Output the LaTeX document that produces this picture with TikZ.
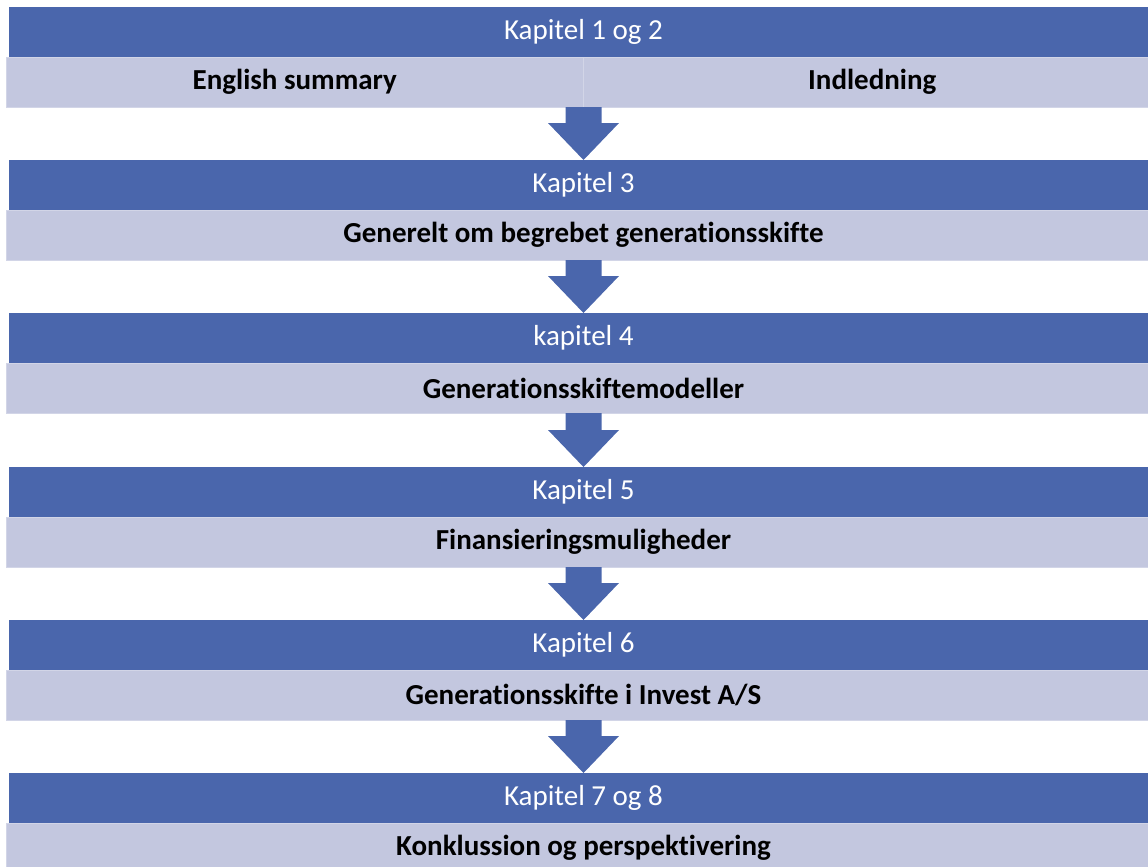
\documentclass[tikz,border=0pt]{standalone}
\usepackage{fontspec}
\setmainfont{Carlito}[Ligatures=CommonOff]
\usetikzlibrary{positioning,calc}
\definecolor{chapterblue}{HTML}{4A66AC}
\definecolor{topicgrey}{HTML}{C3C7DF}
\definecolor{topicedge}{HTML}{D2D5E7}
\tikzset{
chapterbar/.style={fill=chapterblue, text=white, minimum width=1149, minimum height=50,
  inner sep=0, outer sep=0, font=\fontsize{29}{34}\selectfont},
topicbar/.style={fill=topicgrey, draw=topicedge, line width=0.8, text=black,
  minimum width=1155, minimum height=50, inner sep=0, outer sep=0,
  font=\bfseries\fontsize{29}{34}\selectfont},
downarrow/.style={fill=chapterblue}
}

\begin{document}
\begin{tikzpicture}[x=1pt,y=1pt]
\useasboundingbox (0,0) rectangle (1148,-867);
\clip (0,0) rectangle (1148,-867);
% chapter bars
\node[chapterbar] (k1) at (583.5,-32) {Kapitel 1 og 2};
\node[topicbar, minimum width=577.5, anchor=north east] (sum) at (k1.south) {English summary};
\node[topicbar, minimum width=577.5, anchor=north west] (intro) at (k1.south) {Indledning};
\node[chapterbar] (k3) at (583.5,-185) {Kapitel 3};
\node[topicbar, below=0pt of k3] (t3) {Generelt om begrebet generationsskifte};
\node[chapterbar] (k4) at (583.5,-338) {kapitel 4};
\node[topicbar, below=0pt of k4] (t4) {Generationsskiftemodeller};
\node[chapterbar] (k5) at (583.5,-492) {Kapitel 5};
\node[topicbar, below=0pt of k5] (t5) {Finansieringsmuligheder};
\node[chapterbar] (k6) at (583.5,-645) {Kapitel 6};
\node[topicbar, below=0pt of k6] (t6) {Generationsskifte i Invest A/S};
\node[chapterbar] (k7) at (583.5,-798) {Kapitel 7 og 8};
\node[topicbar, below=0pt of k7] (t7) {Konklussion og perspektivering};
% arrows between the bars
\foreach \a/\b in {sum.south east/k3.north, t3.south/k4.north, t4.south/k5.north,
                   t5.south/k6.north, t6.south/k7.north}
  \fill[downarrow] ($(\a)+(-18,0)$) -- ($(\a)+(18,0)$) -- ($(\b)+(18,37)$)
    -- ($(\b)+(35.5,37)$) -- (\b) -- ($(\b)+(-35.5,37)$) -- ($(\b)+(-18,37)$) -- cycle;
\end{tikzpicture}
\end{document}
